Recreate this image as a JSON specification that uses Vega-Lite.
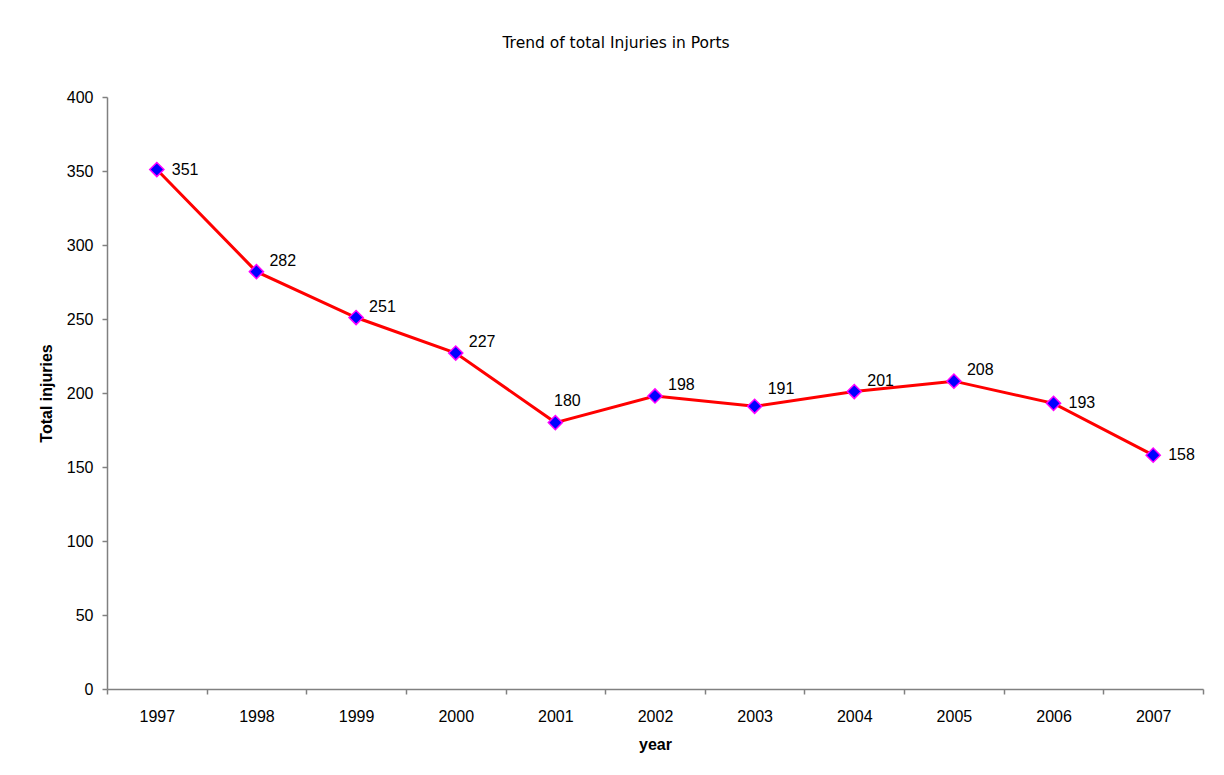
{
  "$schema": "https://vega.github.io/schema/vega-lite/v6.json",
  "autosize": "none",
  "width": 1096,
  "height": 592,
  "padding": {"left": 107, "top": 97, "right": 21, "bottom": 86},
  "background": "white",
  "config": {
    "font": "Liberation Sans",
    "view": {"stroke": null},
    "axis": {"grid": false, "domainColor": "#808080", "tickColor": "#808080", "labelColor": "#000000", "titleColor": "#000000", "labelFont": "Liberation Sans", "titleFont": "Liberation Sans", "labelFontSize": 16, "titleFontSize": 16, "titleFontWeight": "bold", "tickSize": 5, "domainWidth": 1.5, "tickWidth": 1.5}
  },
  "title": {"text": "Trend of total Injuries in Ports", "fontSize": 15.5, "fontWeight": "normal", "font": "DejaVu Sans", "color": "#000000", "anchor": "middle", "dx": -39, "offset": 38},
  "data": {"values": [
    {"year": "1997", "injuries": 351, "grp": "a"},
    {"year": "1998", "injuries": 282, "grp": "b"},
    {"year": "1999", "injuries": 251, "grp": "b"},
    {"year": "2000", "injuries": 227, "grp": "b"},
    {"year": "2001", "injuries": 180, "grp": "d"},
    {"year": "2002", "injuries": 198, "grp": "b"},
    {"year": "2003", "injuries": 191, "grp": "c"},
    {"year": "2004", "injuries": 201, "grp": "b"},
    {"year": "2005", "injuries": 208, "grp": "b"},
    {"year": "2006", "injuries": 193, "grp": "a"},
    {"year": "2007", "injuries": 158, "grp": "a"}
  ]},
  "encoding": {
    "x": {"field": "year", "type": "ordinal", "title": "year", "scale": {"type": "band", "paddingInner": 0, "paddingOuter": 0}, "axis": {"labelAngle": 0, "tickBand": "extent", "labelPadding": 14, "titlePadding": 12}},
    "y": {"field": "injuries", "type": "quantitative", "title": "Total injuries", "scale": {"domain": [0, 400]}, "axis": {"values": [0, 50, 100, 150, 200, 250, 300, 350, 400], "labelPadding": 9, "titlePadding": 12}}
  },
  "layer": [
    {"mark": {"type": "line", "color": "#FF0000", "strokeWidth": 3}},
    {"mark": {"type": "point", "shape": "diamond", "filled": true, "fill": "#0000FF", "stroke": "#FF00FF", "strokeWidth": 1.5, "size": 200, "opacity": 1}},
    {"transform": [{"filter": "datum.grp === 'a'"}], "mark": {"type": "text", "align": "left", "baseline": "middle", "dx": 15, "dy": 0, "fontSize": 16, "color": "#000000"}, "encoding": {"text": {"field": "injuries", "type": "quantitative"}}},
    {"transform": [{"filter": "datum.grp === 'b'"}], "mark": {"type": "text", "align": "left", "baseline": "middle", "dx": 13, "dy": -11, "fontSize": 16, "color": "#000000"}, "encoding": {"text": {"field": "injuries", "type": "quantitative"}}},
    {"transform": [{"filter": "datum.grp === 'c'"}], "mark": {"type": "text", "align": "left", "baseline": "middle", "dx": 13, "dy": -17, "fontSize": 16, "color": "#000000"}, "encoding": {"text": {"field": "injuries", "type": "quantitative"}}},
    {"transform": [{"filter": "datum.grp === 'd'"}], "mark": {"type": "text", "align": "center", "baseline": "middle", "dx": 12, "dy": -22, "fontSize": 16, "color": "#000000"}, "encoding": {"text": {"field": "injuries", "type": "quantitative"}}}
  ]
}
